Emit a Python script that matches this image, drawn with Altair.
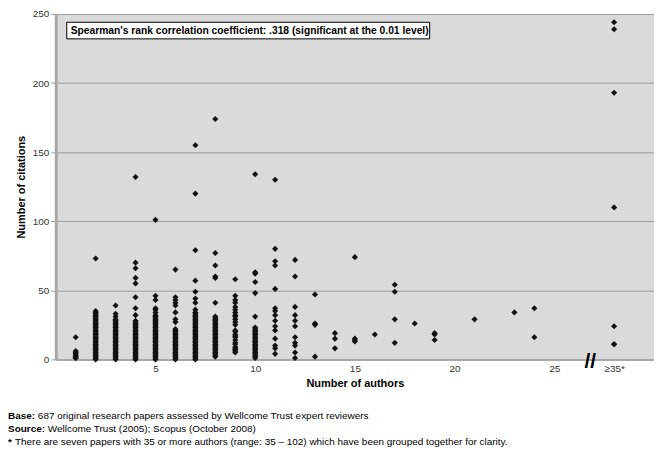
import altair as alt
import pandas as pd

# Citations per paper, grouped by number of authors (28 on the axis = "≥35")
c1 = [16, 6, 5, 4, 3, 2, 1, 1]
c2 = [73, 35, 34, 33, 32, 31, 30, 29, 28, 27, 26, 25, 24, 23, 22, 21, 20, 19, 18, 17,
      16, 15, 14, 13, 12, 11, 10, 9, 8, 7, 6, 5, 4, 3, 2, 1, 0]
c3 = [39, 33, 31, 29, 28, 27, 26, 25, 24, 23, 22, 21, 20, 19, 18, 17, 16, 15, 14, 13,
      12, 11, 10, 9, 8, 7, 6, 5, 4, 3, 2, 1, 0]
c4 = [132, 70, 66, 59, 55, 45, 37, 32, 28, 27, 26, 25, 24, 23, 22, 21, 20, 19, 18, 17,
      16, 15, 14, 13, 12, 11, 10, 9, 8, 7, 6, 5, 4, 3, 2, 1, 0]
c5 = [101, 46, 43, 37, 36, 34, 32, 31, 30, 29, 28, 27, 26, 25, 24, 23, 22, 21, 20, 19,
      18, 17, 16, 15, 14, 13, 12, 11, 10, 9, 8, 7, 6, 5, 4, 3, 2, 1, 0]
c6 = [65, 45, 43, 41, 39, 34, 29, 27, 22, 21, 20, 19, 18, 17, 16, 15, 14, 13, 12, 11,
      10, 9, 8, 7, 6, 5, 4, 3, 2, 1, 0]
c7 = [155, 120, 79, 57, 49, 44, 41, 36, 34, 33, 32, 31, 30, 29, 28, 27, 26, 25, 24, 23,
      22, 21, 20, 19, 18, 17, 16, 15, 14, 13, 12, 11, 10, 9, 8, 7, 6, 5, 4, 3, 2, 1, 0]
c8 = [174, 77, 68, 60, 59, 41, 31, 30, 29, 28, 27, 26, 25, 24, 23, 22, 21, 20, 19, 18,
      17, 16, 15, 14, 13, 12, 11, 10, 9, 8, 7, 6, 5, 4, 3, 2]
c9 = [58, 46, 43, 41, 38, 36, 34, 32, 31, 29, 27, 25, 21, 20, 18, 17, 16, 14, 12, 11,
      9, 8, 7, 6, 5]
c10 = [134, 63, 62, 56, 48, 31, 23, 22, 21, 20, 19, 18, 17, 16, 15, 14, 13, 12, 11, 10,
       9, 8, 7, 6, 5, 4, 3, 2, 1]
c11 = [130, 80, 71, 68, 51, 37, 35, 32, 28, 24, 21, 15, 10, 8, 4]
c12 = [72, 60, 38, 32, 28, 24, 16, 12, 10, 5, 1]
c13 = [47, 26, 25, 2]
c14 = [19, 15, 8]
c15 = [74, 15, 14, 13]
c16 = [18]
c17 = [54, 49, 29, 12]
c18 = [26]
c19 = [19, 18, 14]
c21 = [29]
c23 = [34]
c24 = [37, 16]
c35plus = [244, 239, 193, 110, 24, 11, 11]

groups = [(1, c1), (2, c2), (3, c3), (4, c4), (5, c5), (6, c6), (7, c7), (8, c8),
          (9, c9), (10, c10), (11, c11), (12, c12), (13, c13), (14, c14), (15, c15),
          (16, c16), (17, c17), (18, c18), (19, c19), (21, c21), (23, c23), (24, c24),
          (28, c35plus)]

x_ticks = [5, 10, 15, 20, 25, 28]
y_ticks = [0, 50, 100, 150, 200, 250]

note_text = "Spearman's rank correlation coefficient: .318 (significant at the 0.01 level)"
foot_bold = ["Base:", "Source:", "*"]
foot_rest = ["687 original research papers assessed by Wellcome Trust expert reviewers",
             "Wellcome Trust (2005); Scopus (October 2008)",
             "There are seven papers with 35 or more authors (range: 35 \u2013 102) which have been grouped together for clarity."]

rows = [{"authors": a, "citations": c} for a, cs in groups for c in cs]
df = pd.DataFrame(rows)

FONT = "Liberation Sans"

xscale = alt.Scale(domain=[0, 30], nice=False, zero=False)
yscale = alt.Scale(domain=[0, 250], nice=False)

points = alt.Chart(df).mark_point(
    shape="diamond", filled=True, size=38, color="#111111", opacity=1
).encode(
    x=alt.X("authors:Q", scale=xscale,
            axis=alt.Axis(values=x_ticks, grid=False, ticks=False, labelPadding=4,
                          labelExpr="datum.value == 28 ? '\u226535*' : datum.value",
                          title="Number of authors", titlePadding=4,
                          domainColor="#a8a8a8", domainWidth=2)),
    y=alt.Y("citations:Q", scale=yscale,
            axis=alt.Axis(values=y_ticks, grid=True, gridColor="#9c9c9c",
                          tickSize=5, tickColor="#999999",
                          title="Number of citations", titlePadding=6,
                          domainColor="#a8a8a8", domainWidth=3)),
)

box_df = pd.DataFrame([{"x0": 0.55, "x1": 18.75, "y0": 232.0, "y1": 244.0,
                        "tx": 0.75, "ty": 238.0, "label": note_text}])
box = alt.Chart(box_df).mark_rect(fill="white", stroke="black", strokeWidth=1).encode(
    x=alt.X("x0:Q", scale=xscale), x2="x1:Q",
    y=alt.Y("y0:Q", scale=yscale), y2="y1:Q",
)
box_text = alt.Chart(box_df).mark_text(
    align="left", baseline="middle", font=FONT, fontSize=10.3, fontWeight="bold",
    color="black"
).encode(
    x=alt.X("tx:Q", scale=xscale), y=alt.Y("ty:Q", scale=yscale), text="label:N"
)

brk_df = pd.DataFrame([{"bx": 26.8, "by": 0, "t": "//"}])
brk = alt.Chart(brk_df).mark_text(
    align="center", baseline="middle", font=FONT, fontSize=21, fontWeight="bold",
    color="black", dy=3
).encode(x=alt.X("bx:Q", scale=xscale), y=alt.Y("by:Q", scale=yscale), text="t:N")

foot_layers = []
for i, (b, r) in enumerate(zip(foot_bold, foot_rest)):
    d = pd.DataFrame([{"b": b, "r": r}])
    yy = 404 + 13 * i
    foot_layers.append(alt.Chart(d).mark_text(
        align="left", baseline="middle", font=FONT, fontSize=10, fontWeight="bold",
        color="black"
    ).encode(x=alt.value(-48), y=alt.value(yy), text="b:N"))
    off = {0: 30, 1: 40, 2: 7}[i]
    foot_layers.append(alt.Chart(d).mark_text(
        align="left", baseline="middle", font=FONT, fontSize=10, color="black"
    ).encode(x=alt.value(-48 + off), y=alt.value(yy), text="r:N"))

chart = alt.layer(points, box, box_text, brk, *foot_layers).properties(
    width=601, height=347,
    autosize=alt.AutoSizeParams(type="none"),
    padding={"left": 48, "top": 5, "right": 0, "bottom": 91},
).configure_view(
    fill="#dadada", stroke="#bdbdbd", strokeWidth=1
).configure_axis(
    labelFont=FONT, labelFontSize=10, labelColor="#333333",
    titleFont=FONT, titleFontSize=11, titleFontWeight="bold", titleColor="black",
)

chart.save("out.html", embed_options={"renderer": "svg", "actions": False})
